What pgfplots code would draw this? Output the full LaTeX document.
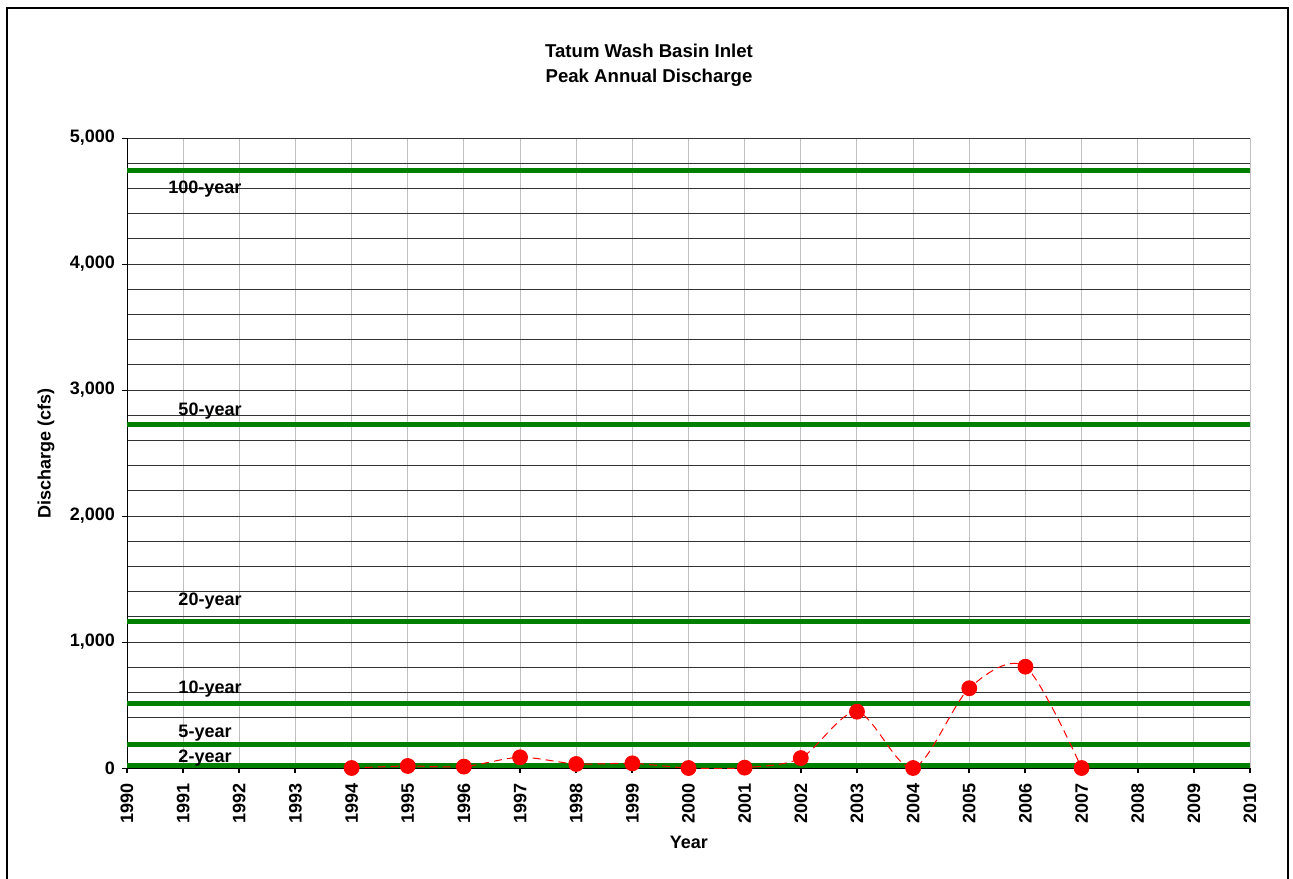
\documentclass[border=0pt]{standalone}
\usepackage{fontspec}
\setmainfont{Liberation Sans}
\usepackage{pgfplots}
\pgfplotsset{compat=1.18}
\definecolor{xlGreen}{RGB}{0,128,0}
\definecolor{xlRed}{RGB}{255,0,0}
\definecolor{xlGrid}{RGB}{192,192,192}
\newcommand{\lbl}{\fontsize{9}{10}\selectfont\bfseries}
\newcommand{\ttl}{\fontsize{9.3}{10}\selectfont\bfseries}

\begin{document}
\begin{tikzpicture}
\begin{axis}[
  at={(0,0)},anchor=south west,
  scale only axis,
  width=561.5pt,height=315pt,
  xmin=1990,xmax=2010,
  ymin=0,ymax=5000,
  xtick={1990,1991,...,2010},
  ytick={0,1000,...,5000},
  minor y tick num=4,
  axis x line*=bottom,
  axis y line*=left,
  x axis line style={line width=1pt,-},
  y axis line style={line width=0.5pt,-},
  tick align=outside,
  major tick length=2.5pt,
  minor tick length=0pt,
  xtick style={line width=1pt,black},
  ytick style={line width=0.5pt,black},
  xmajorgrids,ymajorgrids,yminorgrids,
  major x grid style={xlGrid,line width=0.5pt},
  major y grid style={black!80,line width=0.5pt},
  minor y grid style={black!80,line width=0.5pt},
  /pgf/number format/assume math mode=true,
  /pgf/number format/1000 sep={,},
  tick label style={font=\lbl},
  xticklabel shift=1.5pt,
  xticklabel style={rotate=90,anchor=east,/pgf/number format/1000 sep={}},
  xlabel={Year},ylabel={Discharge (cfs)},
  label style={font=\lbl},
  xlabel style={at={(axis description cs:0.5004,-0.1175)},anchor=center},
  ylabel style={at={(axis description cs:-0.0721,0.5)},anchor=center},
]
% return-period discharges
\addplot[xlGreen,line width=2.5pt] coordinates {(1990,4740) (2010,4740)};
\addplot[xlGreen,line width=2.5pt] coordinates {(1990,2730) (2010,2730)};
\addplot[xlGreen,line width=2.5pt] coordinates {(1990,1160) (2010,1160)};
\addplot[xlGreen,line width=2.5pt] coordinates {(1990,515) (2010,515)};
\addplot[xlGreen,line width=2.5pt] coordinates {(1990,186) (2010,186)};
\addplot[xlGreen,line width=2.5pt] coordinates {(1990,16) (2010,16)};
% peak annual discharge
\addplot[xlRed,line width=0.5pt,dash pattern=on 4pt off 2.5pt,smooth,
  mark=*,mark size=3.7pt,mark options={solid,fill=xlRed,draw=xlRed}] coordinates {
  (1994,0) (1995,16) (1996,11) (1997,85) (1998,32) (1999,37) (2000,0)
  (2001,3) (2002,79) (2003,447) (2004,0) (2005,633) (2006,804) (2007,0)};
\begin{scope}[every node/.style={font=\lbl,inner sep=0pt,anchor=base west}]
\node at (axis cs:1990.73,4563) {100-year};
\node at (axis cs:1990.91,2794) {50-year};
\node at (axis cs:1990.91,1286) {20-year};
\node at (axis cs:1990.91,595) {10-year};
\node at (axis cs:1990.91,246) {5-year};
\node at (axis cs:1990.91,40) {2-year};
\end{scope}
\end{axis}
\node[font=\ttl,inner sep=0pt,anchor=base] at (261pt,355pt) {Tatum Wash Basin Inlet};
\node[font=\ttl,inner sep=0pt,anchor=base] at (261pt,342.5pt) {Peak Annual Discharge};
\draw[line width=1pt] (-60pt,-70pt) -- (-60pt,380pt) -- (580.5pt,380pt) -- (580.5pt,-70pt);
\pgfresetboundingbox
\useasboundingbox (-63.5pt,-55pt) rectangle (583pt,384pt);
\end{tikzpicture}
\end{document}
